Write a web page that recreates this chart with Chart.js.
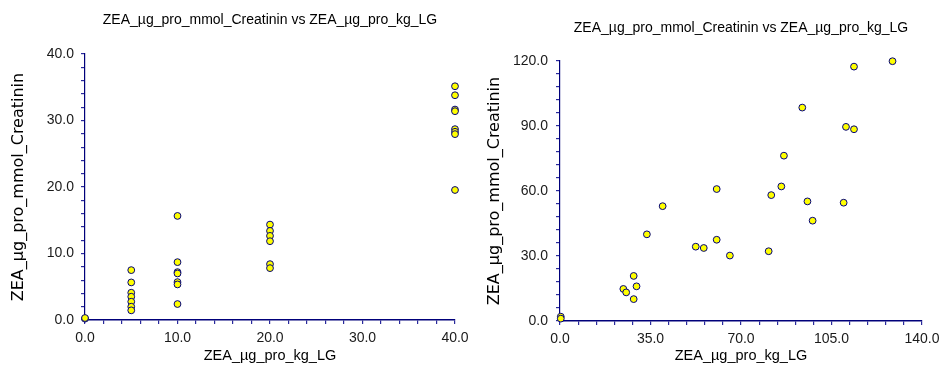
<!DOCTYPE html>
<html>
<head>
<meta charset="utf-8">
<script src="https://cdn.jsdelivr.net/npm/chart.js@4/dist/chart.umd.min.js"></script>
<style>
  html, body { margin: 0; padding: 0; background: #ffffff; }
  #wrap { position: relative; width: 939px; height: 365px; overflow: hidden; }
  .box { position: absolute; top: 0; height: 365px; }
</style>
</head>
<body>
<div id="wrap">
  <div class="box" style="left:0;width:470px;"><canvas id="c1" width="470" height="365"></canvas></div>
  <div class="box" style="left:470px;width:469px;"><canvas id="c2" width="469" height="365"></canvas></div>
</div>
<script>
// ---- data ----
const chartTitle = "ZEA_µg_pro_mmol_Creatinin vs ZEA_µg_pro_kg_LG";
const xAxisLabel = "ZEA_µg_pro_kg_LG";
const yAxisLabel = "ZEA_µg_pro_mmol_Creatinin";

// left chart
const leftX = [0, 0,
  5, 5, 5, 5, 5, 5, 5,
  10, 10, 10, 10, 10, 10, 10,
  20, 20, 20, 20, 20, 20,
  40, 40, 40, 40, 40, 40, 40, 40];
const leftY = [0.2, 0.3,
  7.5, 5.65, 4.1, 3.5, 2.75, 2.0, 1.45,
  15.65, 8.7, 7.2, 7.0, 5.7, 5.35, 2.4,
  14.35, 13.4, 12.65, 11.85, 8.4, 7.8,
  35.15, 33.8, 31.65, 31.4, 28.7, 28.3, 27.95, 19.55];
const leftXTicks = [0, 10, 20, 30, 40];
const leftYTicks = [0, 10, 20, 30, 40];

// right chart
const rightX = [0.3, 0.3, 24.5, 25.6, 28.5, 29.6, 28.5, 33.6, 39.7, 52.5, 55.6,
  60.6, 60.6, 65.7, 80.7, 81.7, 85.6, 86.6, 93.7, 95.7, 97.7, 109.7, 110.6,
  113.7, 113.7, 128.6];
const rightY = [2.0, 1.1, 14.8, 13.2, 20.8, 16.0, 10.1, 40.0, 53.0, 34.3, 33.7,
  60.9, 37.5, 30.2, 32.2, 58.1, 62.1, 76.3, 98.5, 55.2, 46.3, 54.6, 89.6,
  88.5, 117.4, 119.9];
const rightXTicks = [0, 35, 70, 105, 140];
const rightYTicks = [0, 30, 60, 90, 120];

// ---- helpers ----
function pts(xs, ys) { return xs.map((x, i) => ({ x: x, y: ys[i] })); }

function makeChart(id, xs, ys, xTicks, yTicks, geo) {
  const xMajor = xTicks[1] - xTicks[0];
  const yMajor = yTicks[1] - yTicks[0];
  const lbl = (major) => (v) => {
    const r = v / major;
    return Math.abs(r - Math.round(r)) < 1e-6 ? Number(v).toFixed(1) : '';
  };
  return new Chart(document.getElementById(id), {
    type: 'scatter',
    data: {
      datasets: [{
        data: pts(xs, ys),
        backgroundColor: '#ffff00',
        borderColor: '#000080',
        borderWidth: 1,
        pointRadius: 3.4,
        pointHoverRadius: 3.4,
        clip: false
      }]
    },
    options: {
      responsive: false,
      animation: false,
      events: [],
      layout: { autoPadding: false, padding: { top: 0, left: 0, bottom: 0, right: geo.padRight } },
      plugins: {
        legend: { display: false },
        tooltip: { enabled: false },
        title: {
          display: true,
          text: chartTitle,
          fullSize: false,
          color: '#000000',
          font: { family: 'Liberation Sans, Arial, sans-serif', size: 14, weight: 'normal', lineHeight: 1.2 },
          padding: { top: geo.titleTop, bottom: geo.titleBottom }
        }
      },
      scales: {
        x: {
          type: 'linear',
          position: 'bottom',
          min: xTicks[0],
          max: xTicks[xTicks.length - 1],
          afterFit: (s) => { s.height = geo.xH; s.paddingLeft = 0; s.paddingRight = 0; },
          border: { display: true, color: '#00007a', width: 1.5 },
          grid: { display: true, drawOnChartArea: false, drawTicks: true, tickLength: 4, color: '#2a2a9c', lineWidth: 1.2 },
          ticks: {
            stepSize: xMajor / 5,
            autoSkip: false,
            maxRotation: 0,
            padding: 6,
            color: '#1a1a1a',
            font: { family: 'Liberation Sans, Arial, sans-serif', size: 14 },
            callback: lbl(xMajor)
          },
          title: {
            display: true,
            text: xAxisLabel,
            color: '#000000',
            font: { family: 'Liberation Sans, Arial, sans-serif', size: 14.5, lineHeight: 1.2 },
            padding: { top: 0, bottom: 0.4 }
          }
        },
        y: {
          type: 'linear',
          position: 'left',
          min: yTicks[0],
          max: yTicks[yTicks.length - 1],
          afterFit: (s) => { s.width = geo.yW; s.paddingTop = 0; s.paddingBottom = 0; },
          border: { display: true, color: '#00007a', width: 1.2 },
          grid: { display: true, drawOnChartArea: false, drawTicks: true, tickLength: 4, color: '#2a2a9c', lineWidth: 1.2 },
          ticks: {
            stepSize: yMajor / 5,
            autoSkip: false,
            padding: geo.yTickPad,
            color: '#1a1a1a',
            font: { family: 'Liberation Sans, Arial, sans-serif', size: 14 },
            callback: lbl(yMajor)
          },
          title: {
            display: true,
            text: yAxisLabel,
            color: '#000000',
            font: { family: 'DejaVu Sans, sans-serif', size: 16, lineHeight: 1.2 },
            padding: { top: geo.yTitlePad, bottom: 0 }
          }
        }
      }
    }
  });
}

makeChart('c1', leftX, leftY, leftXTicks, leftYTicks,
  { padRight: 15, titleTop: 11.6, titleBottom: 25.6, xH: 45, yW: 85, yTickPad: 7, yTitlePad: 9.4 });
makeChart('c2', rightX, rightY, rightXTicks, rightYTicks,
  { padRight: 17, titleTop: 19.6, titleBottom: 24.6, xH: 44, yW: 90, yTickPad: 8, yTitlePad: 15.4 });
</script>
</body>
</html>
